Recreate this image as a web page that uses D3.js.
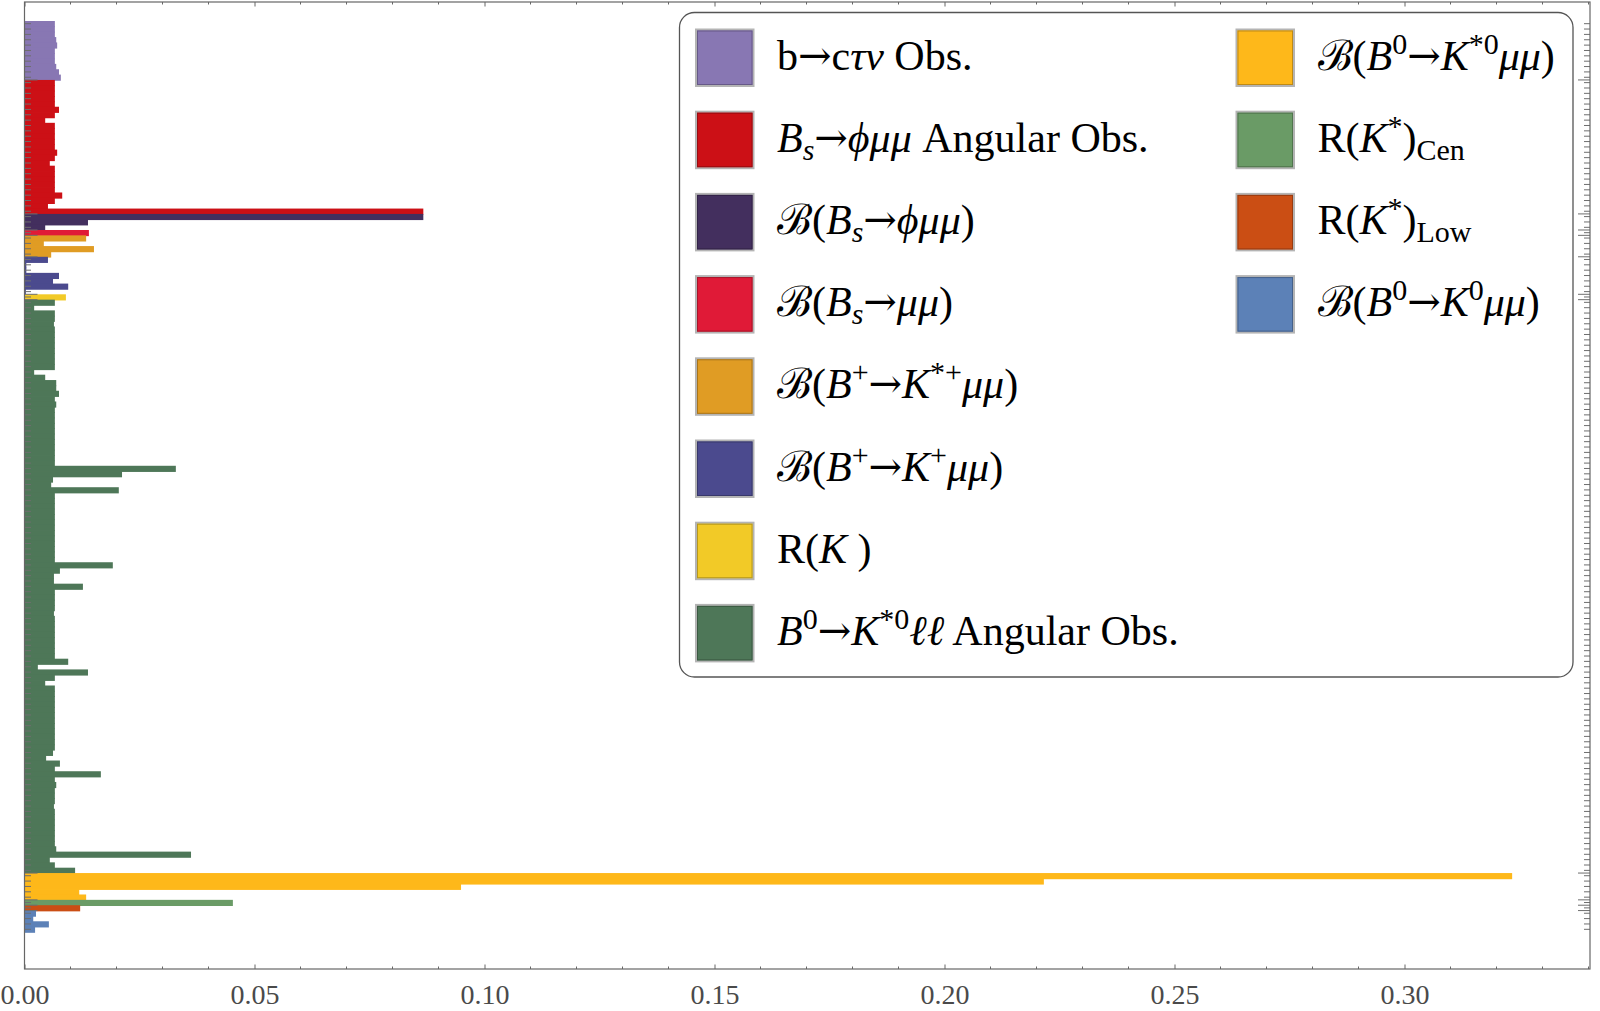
<!DOCTYPE html>
<html>
<head>
<meta charset="utf-8">
<script src="https://cdn.jsdelivr.net/npm/d3@7"></script>
<style>
  html, body { margin: 0; padding: 0; background: #fff; }
  svg { display: block; }
</style>
</head>
<body>
<svg id="chart"></svg>
<script>
// ---- data ----
const btoctaunu = [0.0066, 0.0066, 0.0066, 0.0069, 0.0071, 0.0066, 0.0066, 0.0066, 0.0069, 0.0075, 0.0079];
const bsPhiAngular = [0.0066, 0.0066, 0.0066, 0.0066, 0.0066, 0.0075, 0.0066, 0.0045, 0.0066, 0.0066,
  0.0066, 0.0066, 0.0066, 0.0071, 0.0066, 0.0055, 0.0066, 0.0066, 0.0066, 0.0066,
  0.0066, 0.0082, 0.0066, 0.0051, 0.0867];
const bsPhiBr = [0.0867, 0.0138, 0.0045];
const bsMuMu = [0.0140];
const bpKstarBr = [0.0134, 0.0042, 0.0151, 0.0058];
const bpKBr = [0.0051, 0.0004, 0.0004, 0.0075, 0.0062, 0.0095, 0.0003];
const rK = [0.0090];
const b0KstarAngular = [0.0066, 0.0021, 0.0066, 0.0066, 0.0064, 0.0066, 0.0066, 0.0066, 0.0066, 0.0066,
  0.0066, 0.0066, 0.0066, 0.0021, 0.0045, 0.0069, 0.0069, 0.0075, 0.0066, 0.0069,
  0.0066, 0.0066, 0.0066, 0.0066, 0.0066, 0.0066, 0.0066, 0.0066, 0.0066, 0.0066,
  0.0066, 0.0329, 0.0212, 0.0062, 0.0058, 0.0205, 0.0066, 0.0066, 0.0066, 0.0066,
  0.0066, 0.0066, 0.0066, 0.0066, 0.0066, 0.0066, 0.0066, 0.0066, 0.0066, 0.0192,
  0.0077, 0.0064, 0.0064, 0.0127, 0.0066, 0.0066, 0.0066, 0.0066, 0.0064, 0.0066,
  0.0066, 0.0066, 0.0066, 0.0066, 0.0066, 0.0066, 0.0066, 0.0095, 0.0029, 0.0138,
  0.0066, 0.0045, 0.0066, 0.0066, 0.0066, 0.0066, 0.0066, 0.0066, 0.0066, 0.0066,
  0.0066, 0.0066, 0.0066, 0.0066, 0.0062, 0.0047, 0.0077, 0.0066, 0.0166, 0.0066,
  0.0069, 0.0066, 0.0066, 0.0066, 0.0064, 0.0066, 0.0066, 0.0066, 0.0066, 0.0066,
  0.0066, 0.0066, 0.0069, 0.0362, 0.0055, 0.0066, 0.0110];
const b0KstarBr = [0.3234, 0.2216, 0.0949, 0.0119, 0.0134];
const rKstarCen = [0.0453];
const rKstarLow = [0.0121];
const b0K0Br = [0.0025, 0.0019, 0.0053, 0.0023];

const seriesValues = [btoctaunu, bsPhiAngular, bsPhiBr, bsMuMu, bpKstarBr, bpKBr, rK,
  b0KstarAngular, b0KstarBr, rKstarCen, rKstarLow, b0K0Br];
const seriesColors = ["#8877B3", "#CC1016", "#432F5E", "#E01A37", "#E09C24", "#4B4A8E",
  "#F2CA27", "#4E7758", "#FEB81A", "#6A9B66", "#CB4E14", "#5C81B7"];
// legend labels: [text, kind]  r roman, i italic, a arrow, sp superscript, si italic subscript, sb roman subscript
const seriesLabels = [
  [["b", "r"], ["→", "a"], ["c", "r"], ["τν", "i"], [" Obs.", "r"]],
  [["B", "i"], ["s", "si"], ["→", "a"], ["ϕμμ", "i"], [" Angular Obs.", "r"]],
  [["ℬ(", "r"], ["B", "i"], ["s", "si"], ["→", "a"], ["ϕμμ", "i"], [")", "r"]],
  [["ℬ(", "r"], ["B", "i"], ["s", "si"], ["→", "a"], ["μμ", "i"], [")", "r"]],
  [["ℬ(", "r"], ["B", "i"], ["+", "sp"], ["→", "a"], ["K", "i"], ["*+", "sp"], ["μμ", "i"], [")", "r"]],
  [["ℬ(", "r"], ["B", "i"], ["+", "sp"], ["→", "a"], ["K", "i"], ["+", "sp"], ["μμ", "i"], [")", "r"]],
  [["R(", "r"], ["K", "i"], [" )", "r"]],
  [["B", "i"], ["0", "sp"], ["→", "a"], ["K", "i"], ["*0", "sp"], ["ℓℓ", "i"], [" Angular Obs.", "r"]],
  [["ℬ(", "r"], ["B", "i"], ["0", "sp"], ["→", "a"], ["K", "i"], ["*0", "sp"], ["μμ", "i"], [")", "r"]],
  [["R(", "r"], ["K", "i"], ["*", "sp"], [")", "r"], ["Cen", "sb"]],
  [["R(", "r"], ["K", "i"], ["*", "sp"], [")", "r"], ["Low", "sb"]],
  [["ℬ(", "r"], ["B", "i"], ["0", "sp"], ["→", "a"], ["K", "i"], ["0", "sp"], ["μμ", "i"], [")", "r"]]
];
const xMajorTicks = [0, 0.05, 0.10, 0.15, 0.20, 0.25, 0.30];

// ---- layout ----
const W = 1600, H = 1011;
const plotL = 24.5, plotR = 1590, plotT = 2, plotB = 969;
const serif = "'Liberation Serif', 'DejaVu Serif', 'Times New Roman', serif";

const bars = [];
const boundaries = [];
seriesValues.forEach((vals, g) => {
  if (g > 0) boundaries.push(bars.length);
  vals.forEach(v => bars.push({ g, v, i: bars.length }));
});

const x = d3.scaleLinear().domain([0, (plotR - plotL) / 4600]).range([plotL, plotR]);
const y = d3.scaleBand().domain(d3.range(bars.length)).range([21, 932]).paddingInner(0);

const svg = d3.select("#chart").attr("width", W).attr("height", H);

svg.append("g")
  .selectAll("rect")
  .data(bars)
  .enter()
  .append("rect")
  .attr("x", x(0))
  .attr("y", d => y(d.i))
  .attr("width", d => x(d.v) - x(0))
  .attr("height", y.bandwidth() + 0.8)
  .attr("fill", d => seriesColors[d.g]);

// bar ticks, left and right
const tickColor = "#6e6e6e";
const ticks = svg.append("g").attr("stroke", tickColor).attr("stroke-width", 1);
bars.forEach(d => {
  const cy = y(d.i) + y.bandwidth() / 2;
  ticks.append("line").attr("x1", plotL).attr("x2", plotL + 6.5).attr("y1", cy).attr("y2", cy);
  ticks.append("line").attr("x1", plotR).attr("x2", plotR - 6).attr("y1", cy).attr("y2", cy);
});
boundaries.forEach(b => {
  const by = y(b);
  ticks.append("line").attr("x1", plotL).attr("x2", plotL + 13).attr("y1", by).attr("y2", by);
  ticks.append("line").attr("x1", plotR).attr("x2", plotR - 12).attr("y1", by).attr("y2", by);
});

// frame
svg.append("rect")
  .attr("x", plotL).attr("y", plotT)
  .attr("width", plotR - plotL).attr("height", plotB - plotT)
  .attr("fill", "none").attr("stroke", "#666").attr("stroke-width", 1.2);

// x axes (bottom with labels, top ticks only)
const minor = d3.range(0, 0.341, 0.01).filter(v => Math.abs(v * 20 - Math.round(v * 20)) > 1e-6);
const bottomAxis = svg.append("g")
  .attr("transform", `translate(0,${plotB})`)
  .call(d3.axisBottom(x).tickValues(xMajorTicks).tickFormat(d3.format(".2f"))
    .tickSizeInner(-4.5).tickSizeOuter(0));
bottomAxis.select(".domain").remove();
bottomAxis.selectAll("line").attr("stroke", "#666");
bottomAxis.selectAll("text")
  .attr("dy", null).attr("y", 35)
  .style("font-family", serif).style("font-size", "28px").attr("fill", "#4a4a4a");
bottomAxis.selectAll(".minor").data(minor).enter().append("line")
  .attr("x1", d => x(d)).attr("x2", d => x(d)).attr("y1", 0).attr("y2", -2.5)
  .attr("stroke", "#666");

const topAxis = svg.append("g")
  .attr("transform", `translate(0,${plotT})`)
  .call(d3.axisTop(x).tickValues(xMajorTicks).tickFormat("")
    .tickSizeInner(-4.5).tickSizeOuter(0));
topAxis.select(".domain").remove();
topAxis.selectAll("line").attr("stroke", "#666");
topAxis.selectAll(".minor").data(minor).enter().append("line")
  .attr("x1", d => x(d)).attr("x2", d => x(d)).attr("y1", 0).attr("y2", 2.5)
  .attr("stroke", "#666");

// legend
const legend = svg.append("g");
legend.append("rect")
  .attr("x", 679.5).attr("y", 12.5).attr("width", 1573 - 679.5).attr("height", 677 - 12.5)
  .attr("rx", 15).attr("ry", 15)
  .attr("fill", "#fff").attr("stroke", "#555").attr("stroke-width", 1.3);

const rowPitch = 82.2;
seriesLabels.forEach((segs, k) => {
  const col = k < 8 ? 0 : 1;
  const row = k < 8 ? k : k - 8;
  const sx = col === 0 ? 696 : 1236.5;
  const sy = 29.5 + row * rowPitch;
  legend.append("rect")
    .attr("x", sx).attr("y", sy).attr("width", 57.5).attr("height", 56.5)
    .attr("fill", seriesColors[k]).attr("stroke", "#b4b4b4").attr("stroke-width", 2);
  legend.append("rect")
    .attr("x", sx + 1.5).attr("y", sy + 1.5).attr("width", 54.5).attr("height", 53.5)
    .attr("fill", "none").attr("stroke", d3.color(seriesColors[k]).darker(0.8)).attr("stroke-width", 1);

  const t = legend.append("text")
    .attr("x", sx + 81).attr("y", sy + 40)
    .style("font-family", serif).style("font-size", "42px").attr("fill", "#000");
  let shift = 0;
  segs.forEach(([txt, kind]) => {
    let s = 0, size = 42, italic = false, fam = null;
    if (kind === "i") italic = true;
    if (kind === "a") { fam = "'DejaVu Serif', serif"; size = 40; s = -1; }
    if (kind === "sp") { s = -16; size = 30; }
    if (kind === "si") { s = 8; size = 30; italic = true; }
    if (kind === "sb") { s = 8; size = 30; }
    const ts = t.append("tspan").text(txt)
      .style("font-size", size + "px")
      .style("font-style", italic ? "italic" : "normal");
    if (fam) ts.style("font-family", fam).style("font-weight", "200");
    if (s !== shift) { ts.attr("dy", s - shift); shift = s; }
  });
});
</script>
</body>
</html>
